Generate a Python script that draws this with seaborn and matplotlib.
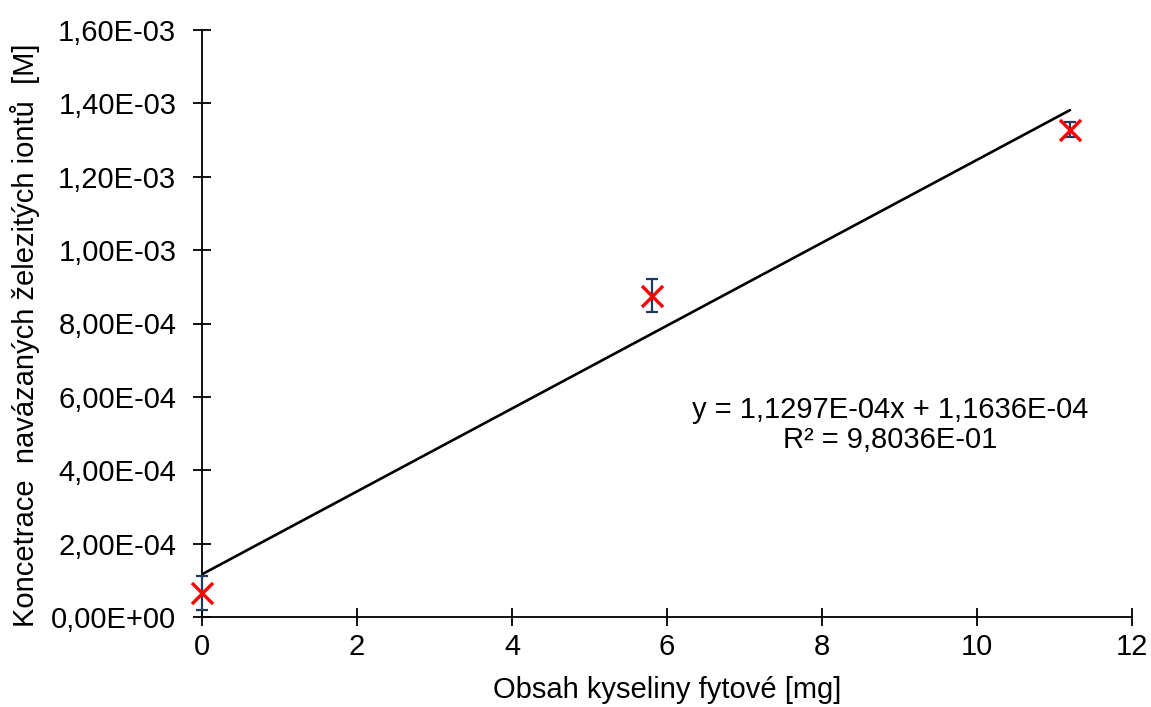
import numpy as np
import pandas as pd
import matplotlib
matplotlib.use("Agg")
import matplotlib.pyplot as plt
import seaborn as sns
from matplotlib.ticker import FuncFormatter, MultipleLocator

# data
phytic_mg = [0.0, 5.8, 11.2]
iron_conc = [6.5e-5, 8.76e-4, 1.328e-3]
iron_err = [4.7e-5, 4.5e-5, 2.0e-5]
slope = 1.1297e-4
intercept = 1.1636e-4
r2_text = "R² = 9,8036E-01"
eq_text = "y = 1,1297E-04x + 1,1636E-04"
x_label = "Obsah kyseliny fytové [mg]"
y_label = "Koncetrace  navázaných železitých iontů  [M]"

sns.set_theme(style="white")
plt.rcParams['font.family'] = ['Liberation Sans', 'DejaVu Sans']

FS = 21

fig = plt.figure(figsize=(11.51, 7.07), dpi=100)
ax = fig.add_axes([202/1151, 1-617/707, (1132-202)/1151, (617-30)/707])

df = pd.DataFrame({"x": phytic_mg, "y": iron_conc})
fit_x = np.array([min(phytic_mg), max(phytic_mg)])
fit_df = pd.DataFrame({"x": fit_x, "y": slope * fit_x + intercept})
sns.lineplot(data=fit_df, x="x", y="y", ax=ax, color="black", linewidth=1.9, zorder=2)

ax.errorbar(phytic_mg, iron_conc, yerr=iron_err, fmt="none", ecolor="#1f3a5f",
            elinewidth=1.6, capsize=4, capthick=1.6, zorder=3, clip_on=False)
sns.scatterplot(data=df, x="x", y="y", ax=ax, marker="x", color="#ff0000", s=230,
                linewidth=2.4, zorder=4, clip_on=False)

ax.set_xlim(0, 12)
ax.set_ylim(0, 1.6e-3)
ax.xaxis.set_major_locator(MultipleLocator(2))
ax.yaxis.set_major_locator(MultipleLocator(2e-4))

def yfmt(v, pos):
    if abs(v) < 1e-12:
        return "0,00E+00"
    s = f"{v:.2E}"
    mant, exp = s.split("E")
    e = int(exp)
    return f"{mant.replace('.', ',')}E{'-' if e < 0 else '+'}{abs(e):02d}"

ax.yaxis.set_major_formatter(FuncFormatter(yfmt))
ax.xaxis.set_major_formatter(FuncFormatter(lambda v, p: f"{int(round(v))}"))

for side in ["top", "right"]:
    ax.spines[side].set_visible(False)
for side in ["left", "bottom"]:
    ax.spines[side].set_color("black")
    ax.spines[side].set_linewidth(1.3)

ax.tick_params(axis="both", which="major", direction="inout", length=13, width=1.3,
               color="black", labelsize=FS, labelcolor="black", left=True, bottom=True)
ax.tick_params(axis="y", pad=12)
ax.tick_params(axis="x", pad=5)

ax.set_xlabel(x_label, fontsize=FS, color="black")
ax.set_ylabel(y_label, fontsize=FS, color="black")
ax.xaxis.label.set_va("center")
ax.yaxis.label.set_va("center")
ax.xaxis.set_label_coords((667-202)/930, (617-690)/587)
ax.yaxis.set_label_coords((25-202)/930, (617-335)/587)

ax.text(890/1151, 1-410/707, eq_text, transform=fig.transFigure, ha="center", va="center",
        fontsize=FS, color="black")
ax.text(890/1151, 1-440/707, r2_text, transform=fig.transFigure, ha="center", va="center",
        fontsize=FS, color="black")

ax.grid(False)
fig.savefig("out.png", dpi=100, facecolor="white")
